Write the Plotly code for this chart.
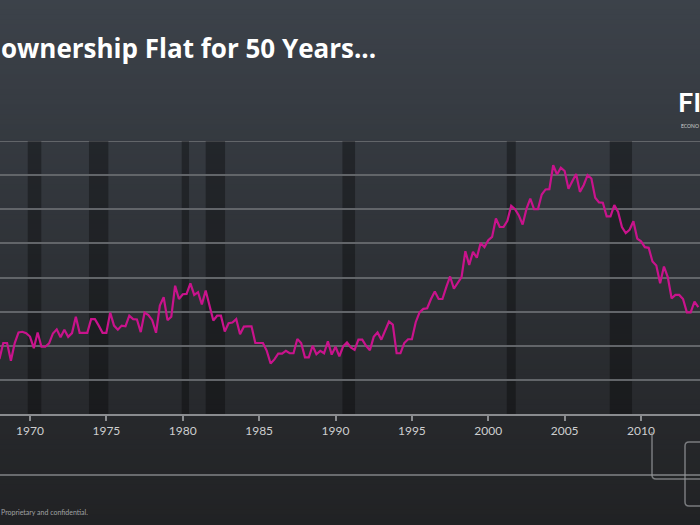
import numpy as np
import plotly.graph_objects as go

# ---------------- data ----------------
start_year = 1968  # first quarter shown (quarterly series)
rate_1968_1979 = [63.61, 64.08, 64.08, 63.56, 64.08, 64.39, 64.41, 64.37, 64.27, 63.93,
                  64.39, 63.97, 63.97, 64.07, 64.36, 64.48, 64.25, 64.47, 64.26, 64.37,
                  64.85, 64.38, 64.38, 64.38, 64.78, 64.78, 64.59, 64.38, 64.38, 64.97,
                  64.59, 64.47, 64.59, 64.57, 64.88, 64.78, 64.77, 64.40, 64.97, 64.90,
                  64.75, 64.38, 65.18, 65.42, 64.75, 64.85, 65.76, 65.37]
rate_1980_1991 = [65.51, 65.52, 65.83, 65.49, 65.57, 65.21, 65.62, 65.21, 64.74, 64.88,
                  64.88, 64.42, 64.66, 64.68, 64.78, 64.34, 64.56, 64.57, 64.57, 64.08,
                  64.08, 64.08, 63.85, 63.48, 63.60, 63.77, 63.77, 63.85, 63.78, 63.78,
                  64.20, 64.08, 63.66, 63.66, 64.00, 63.75, 63.85, 63.78, 64.13, 63.74,
                  63.97, 63.69, 63.98, 64.10, 63.95, 63.88, 64.18, 64.18]
rate_1992_2003 = [64.00, 63.87, 64.26, 64.39, 64.18, 64.44, 64.71, 64.62, 63.78, 63.78,
                  64.08, 64.19, 64.19, 64.69, 64.98, 65.08, 65.10, 65.37, 65.59, 65.37,
                  65.37, 65.72, 66.03, 65.67, 65.86, 66.01, 66.77, 66.37, 66.75, 66.58,
                  67.01, 66.89, 67.09, 67.19, 67.73, 67.48, 67.48, 67.66, 68.10, 68.00,
                  67.82, 67.55, 68.01, 68.31, 68.00, 68.00, 68.43, 68.58]
rate_2004_2013 = [68.59, 69.29, 69.02, 69.22, 69.12, 68.60, 68.82, 69.03, 68.51, 68.71,
                  69.00, 68.90, 68.34, 68.20, 68.19, 67.79, 67.79, 68.12, 67.92, 67.48,
                  67.30, 67.40, 67.65, 67.14, 67.06, 66.89, 66.87, 66.47, 66.35, 65.83,
                  66.32, 66.01, 65.39, 65.49, 65.49, 65.37, 64.98, 64.98, 65.29, 65.13]
rates = rate_1968_1979 + rate_1980_1991 + rate_1992_2003 + rate_2004_2013
years = [start_year + i / 4 for i in range(len(rates))]

recession_starts = [1969.85, 1973.86, 1979.93, 1981.50, 1990.45, 2001.21, 2007.95]
recession_ends = [1970.74, 1975.13, 1980.41, 1982.77, 1991.28, 2001.80, 2009.41]

tick_years = [1970, 1975, 1980, 1985, 1990, 1995, 2000, 2005, 2010]
tick_labels = [str(y) for y in tick_years]

title_text = "ownership Flat for 50 Years..."
footer_text = "Proprietary and confidential."
logo_text = "FI"
logo_sub_text = "ECONO"

# ---------------- style / layout ----------------
W, H = 700, 525
PLOT_TOP, PLOT_BOTTOM = 141, 414
Y_MIN, Y_MAX = 62, 70


def px_x(px):
    return px / W


def px_y(py):
    return (PLOT_BOTTOM - py) / (PLOT_BOTTOM - PLOT_TOP)


top_col = np.array([60, 66, 74])
bot_col = np.array([33, 34, 36])

shapes = []
band = 5
for i in range(0, H, band):
    f = (i + band / 2) / H
    c = (top_col * (1 - f) + bot_col * f).round().astype(int)
    shapes.append(dict(type="rect", xref="paper", yref="paper", layer="below",
                       x0=-0.01, x1=1.01, y0=px_y(i + band + 0.5), y1=px_y(i - 0.5),
                       line=dict(width=0), fillcolor=f"rgb({c[0]},{c[1]},{c[2]})"))

for s, e in zip(recession_starts, recession_ends):
    shapes.append(dict(type="rect", xref="x", yref="y", layer="below",
                       x0=s, x1=e, y0=Y_MIN, y1=Y_MAX, line=dict(width=0),
                       fillcolor="rgba(0,0,0,0.33)"))

# top gridline (plotly omits the one on the range edge)
shapes.append(dict(type="line", xref="paper", yref="y", layer="below",
                   x0=0, x1=1, y0=Y_MAX, y1=Y_MAX, line=dict(color="#626569", width=2)))

deco = "rgba(150,152,155,0.75)"
shapes.append(dict(type="line", xref="paper", yref="paper", x0=0, x1=1,
                   y0=px_y(475), y1=px_y(475), line=dict(color="#696b6e", width=2)))

r = 4
p1 = (f"M {px_x(652)},{px_y(432)} L {px_x(652)},{px_y(479 - r)} "
      f"Q {px_x(652)},{px_y(479)} {px_x(652 + r)},{px_y(479)} L {px_x(705)},{px_y(479)}")
shapes.append(dict(type="path", xref="paper", yref="paper", path=p1,
                   line=dict(color=deco, width=1.5)))
p2 = (f"M {px_x(705)},{px_y(442)} L {px_x(685 + r)},{px_y(442)} "
      f"Q {px_x(685)},{px_y(442)} {px_x(685)},{px_y(442 + r)} "
      f"L {px_x(685)},{px_y(506 - r)} Q {px_x(685)},{px_y(506)} {px_x(685 + r)},{px_y(506)} "
      f"L {px_x(705)},{px_y(506)}")
shapes.append(dict(type="path", xref="paper", yref="paper", path=p2,
                   line=dict(color=deco, width=1.5)))

fig = go.Figure()
fig.add_trace(go.Scatter(x=years, y=rates, mode="lines",
                         line=dict(color="#c9138c", width=2.2),
                         hoverinfo="x+y", showlegend=False))

annotations = [
    dict(text=title_text, xref="paper", yref="paper", x=px_x(0), y=px_y(48),
         xanchor="left", yanchor="middle", showarrow=False, borderpad=0,
         font=dict(family="Open Sans", size=26, color="white", weight="bold")),
    dict(text=logo_text, xref="paper", yref="paper", x=px_x(676), y=px_y(120),
         xanchor="left", yanchor="bottom", showarrow=False,
         font=dict(family="Lato", size=27, color="white", weight="bold")),
    dict(text=logo_sub_text, xref="paper", yref="paper", x=px_x(679), y=px_y(121),
         xanchor="left", yanchor="top", showarrow=False,
         font=dict(family="Lato", size=5, color="#d0d2d4")),
    dict(text=footer_text, xref="paper", yref="paper", x=px_x(0), y=px_y(512),
         xanchor="left", yanchor="middle", showarrow=False, borderpad=0,
         font=dict(family="Lato", size=7, color="#a0a2a4")),
]

fig.update_layout(
    width=W, height=H,
    margin=dict(l=0, r=0, t=PLOT_TOP, b=H - PLOT_BOTTOM, pad=0),
    paper_bgcolor="#2e3135", plot_bgcolor="rgba(0,0,0,0)",
    shapes=shapes, annotations=annotations, showlegend=False,
    xaxis=dict(range=[1968.036, 2013.86], tickmode="array", tickvals=tick_years,
               ticktext=tick_labels, showgrid=False, zeroline=False,
               showline=True, linecolor="#8a8c8f", linewidth=2,
               ticks="outside", ticklen=5, tickwidth=1.5, tickcolor="#8a8c8f",
               tickfont=dict(family="Lato", size=12, color="#cdcecf"), fixedrange=True),
    yaxis=dict(range=[Y_MIN, Y_MAX], dtick=1, showgrid=True, gridcolor="#626569", gridwidth=2,
               showticklabels=False, zeroline=False, showline=False, fixedrange=True),
)

fig.write_html("out.html", config={"displayModeBar": False},
               post_script="document.body.style.margin='0';document.body.style.overflow='hidden';")
